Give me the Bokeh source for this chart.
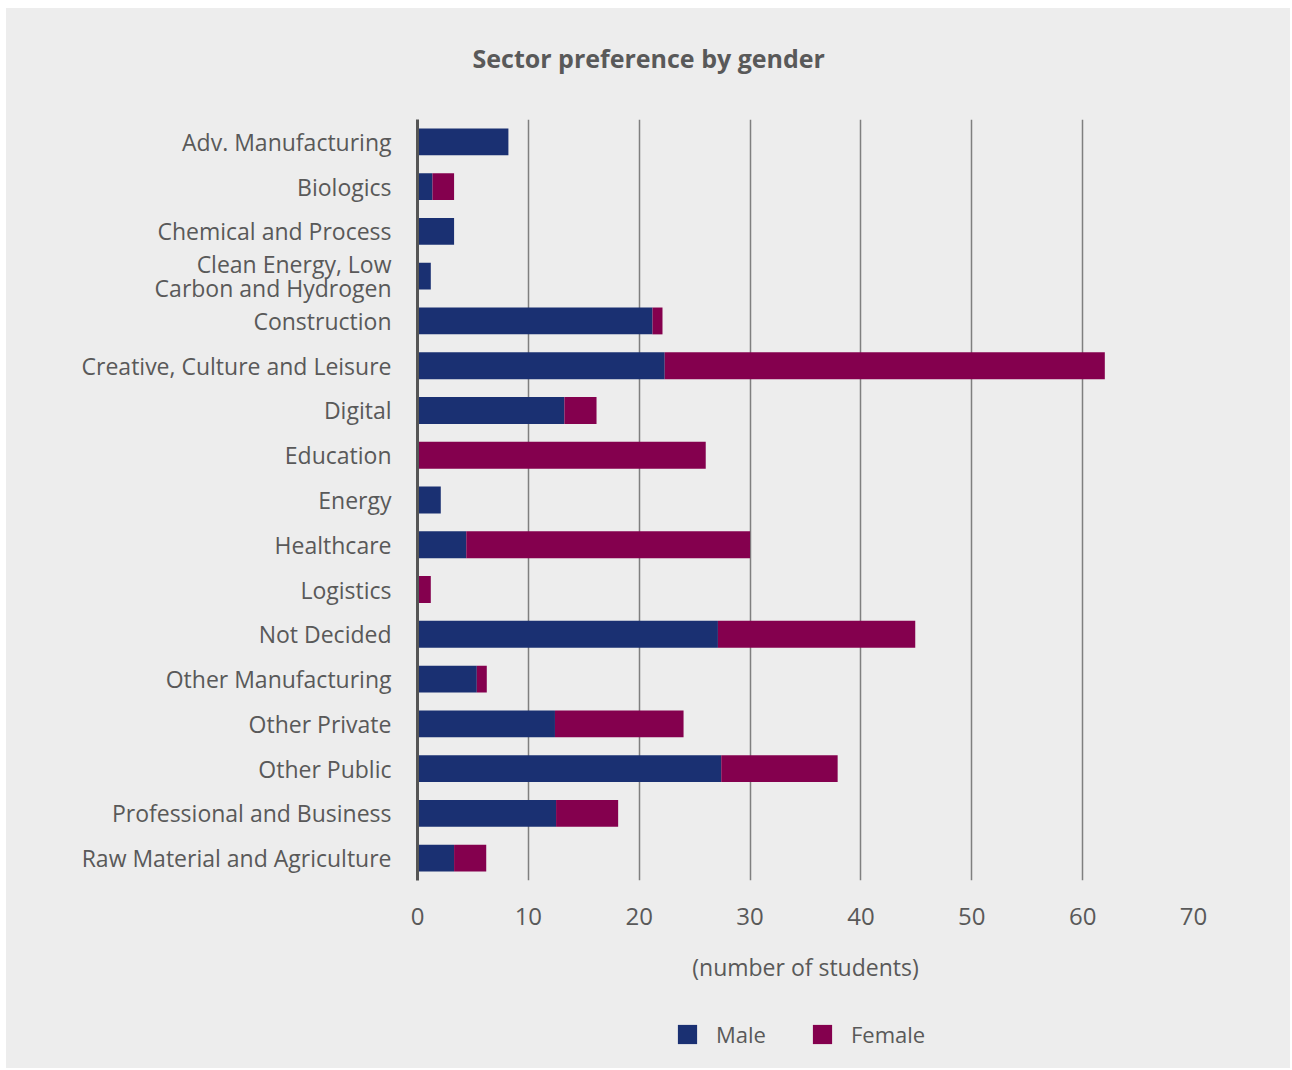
from bokeh.plotting import figure
from bokeh.layouts import column
from bokeh.models import FactorRange, Range1d, Legend, LegendItem, ColumnDataSource, FixedTicker
from bokeh.embed import file_html
from bokeh.resources import INLINE

categories = [
    "Adv. Manufacturing", "Biologics", "Chemical and Process",
    "Clean Energy, Low\nCarbon and Hydrogen", "Construction",
    "Creative, Culture and Leisure", "Digital", "Education", "Energy",
    "Healthcare", "Logistics", "Not Decided", "Other Manufacturing",
    "Other Private", "Other Public", "Professional and Business",
    "Raw Material and Agriculture",
]
male = [8.2, 1.35, 3.3, 1.2, 21.2, 22.3, 13.25, 0, 2.1, 4.4, 0, 27.1, 5.35, 12.4, 27.4, 12.5, 3.3]
female = [0, 1.95, 0, 0, 0.9, 39.7, 2.9, 26.0, 0, 25.6, 1.2, 17.8, 0.9, 11.6, 10.5, 5.6, 2.9]
series = ["Male", "Female"]
x_ticks = [0, 10, 20, 30, 40, 50, 60, 70]

MALE_C = "#1a3072"
FEMALE_C = "#84004e"
BG = "#ededed"
TXT = "#595959"
FONT = "Open Sans"

src = ColumnDataSource(dict(sector=categories, Male=male, Female=female))


def strip(height):
    f = figure(width=1284, height=height, x_range=Range1d(100, 101),
               y_range=FactorRange(factors=categories[::-1]),
               output_backend="svg", toolbar_location=None,
               x_axis_location=None, y_axis_location=None, min_border=0)
    f.grid.visible = False
    f.background_fill_alpha = 0
    f.border_fill_color = BG
    f.outline_line_color = None
    return f


# title strip
p0 = strip(111)
p0.title.text = "Sector preference by gender"
p0.title.align = "left"
p0.title.vertical_align = "top"
p0.title.offset = 55
p0.title.text_font = FONT
p0.title.text_font_size = "25px"
p0.title.text_font_style = "bold"
p0.title.text_color = TXT
p0.title.standoff = 64

# main chart
p = figure(frame_width=776, frame_height=761,
           y_range=FactorRange(factors=categories[::-1]),
           x_range=Range1d(0, 70),
           output_backend="svg", toolbar_location=None,
           min_border_left=411, min_border_right=97,
           min_border_top=0, min_border_bottom=125)
p.title.text = ""

rs = p.hbar_stack(series, y="sector", height=0.6,
                  fill_color=[MALE_C, FEMALE_C], line_color=None, source=src)

p.background_fill_color = BG
p.border_fill_color = BG
p.outline_line_color = None

p.ygrid.visible = False
p.xgrid.grid_line_color = "#7f7f7f"
p.xgrid.grid_line_width = 1.5

p.xaxis.ticker = FixedTicker(ticks=x_ticks)
p.xaxis.axis_line_color = None
p.xaxis.major_tick_line_color = None
p.xaxis.minor_tick_line_color = None
p.xaxis.major_label_text_font = FONT
p.xaxis.major_label_text_font_size = "24px"
p.xaxis.major_label_text_color = TXT
p.xaxis.major_label_standoff = 21
p.xaxis.axis_label = "(number of students)"
p.xaxis.axis_label_text_font = FONT
p.xaxis.axis_label_text_font_size = "23px"
p.xaxis.axis_label_text_font_style = "normal"
p.xaxis.axis_label_text_color = TXT
p.xaxis.axis_label_standoff = 23

p.yaxis.axis_line_color = "#555555"
p.yaxis.axis_line_width = 3
p.yaxis.major_tick_line_color = None
p.yaxis.minor_tick_line_color = None
p.yaxis.major_label_text_font = FONT
p.yaxis.major_label_text_font_size = "23px"
p.yaxis.major_label_text_color = TXT
p.yaxis.major_label_text_line_height = 0.74
p.yaxis.major_label_standoff = 20

# legend strip
p2 = strip(63)
p2.title.text = ""
lr = p2.hbar_stack(series, y="sector", height=0,
                   fill_color=[MALE_C, FEMALE_C], line_color=None, source=src)
legend = Legend(items=[LegendItem(label=s, renderers=[r]) for s, r in zip(series, lr)],
                orientation="horizontal", location=(258, 19),
                glyph_width=24, glyph_height=24, label_standoff=17, spacing=44,
                label_text_font=FONT, label_text_font_size="22px",
                label_text_color=TXT, background_fill_alpha=0,
                border_line_color=None, padding=0, margin=0)
p2.add_layout(legend, "center")

layout = column(p0, p, p2, spacing=0, margin=(8, 0, 0, 6),
                styles={"background-color": BG})
open("out.html", "w").write(file_html(layout, INLINE))
